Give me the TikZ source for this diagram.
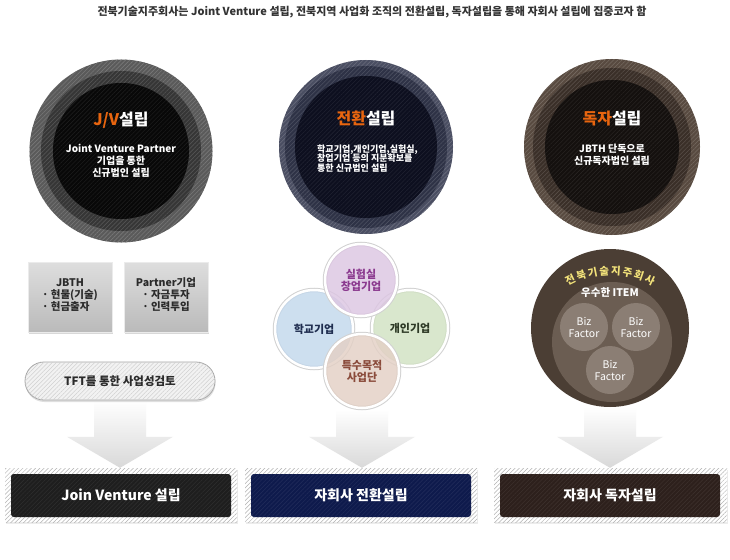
\documentclass[tikz,border=0pt]{standalone}
\usepackage{fontspec}
\setmainfont{Noto Sans CJK KR}
\usetikzlibrary{patterns.meta,shadows,calc,backgrounds}
\pgfdeclarelayer{bgzero}
\pgfsetlayers{bgzero,background,main}
\definecolor{titlec}{HTML}{333333}
\definecolor{orng}{HTML}{E8650F}
\definecolor{rA}{HTML}{5A5A5A}\definecolor{rB}{HTML}{363636}\definecolor{rC}{HTML}{080808}
\definecolor{sA}{HTML}{4A4E62}\definecolor{sB}{HTML}{2E3246}\definecolor{sC}{HTML}{0D0F1F}
\definecolor{tA}{HTML}{584A40}\definecolor{tB}{HTML}{3A2F28}\definecolor{tC}{HTML}{14100E}
\definecolor{boxtext}{HTML}{2B2B2B}
\definecolor{pur}{HTML}{DCC6E2}\definecolor{purt}{HTML}{8B3A8F}
\definecolor{blu}{HTML}{C3D8EC}\definecolor{blut}{HTML}{1F2D4F}
\definecolor{grn}{HTML}{D1E2C3}\definecolor{grnt}{HTML}{2E3A26}
\definecolor{pnk}{HTML}{E3D0C5}\definecolor{pnkt}{HTML}{8A4B3B}
\definecolor{broA}{HTML}{4B3E34}\definecolor{broB}{HTML}{6B5D52}\definecolor{broC}{HTML}{8B7E74}
\definecolor{yel}{HTML}{F2E27A}
\definecolor{bxA}{HTML}{1E1E1E}\definecolor{bxB}{HTML}{0E1A4C}\definecolor{bxC}{HTML}{2D201C}
\begin{document}
\begin{tikzpicture}[x=1pt,y=-1pt,
  ring/.style={circle, inner sep=0pt, minimum size=#1},
  hatch/.style={postaction={pattern={Lines[angle=45,distance=3pt,line width=0.6pt]}, pattern color=#1}},
  ctitle/.style={font=\fontsize{16}{18}\selectfont\bfseries, inner sep=0pt},
  ctxt/.style={font=\fontsize{10}{12}\selectfont\bfseries, text=white, align=center, inner sep=0pt},
  graybox/.style={rectangle, inner sep=0pt, top color=black!13, bottom color=black!27, draw=black!8, line width=0.6pt,
     drop shadow={opacity=0.3, shadow xshift=1pt, shadow yshift=-1.5pt}},
  boxtitle/.style={font=\fontsize{10.5}{12}\selectfont\bfseries, text=boxtext, inner sep=0pt},
  boxlist/.style={font=\fontsize{10.5}{12}\selectfont\bfseries, text=boxtext, align=left, inner sep=0pt},
  pillbox/.style={rectangle, rounded corners=19pt, inner sep=0pt, fill=black!5, draw=black!35, line width=0.8pt,
     postaction={pattern={Lines[angle=45,distance=3pt,line width=0.5pt]}, pattern color=black!18},
     drop shadow={opacity=0.25, shadow xshift=0.5pt, shadow yshift=-2pt},
     font=\fontsize{11.5}{13}\selectfont\bfseries, text=boxtext},
  petal/.style={circle, inner sep=0pt, minimum size=#1, draw=white, line width=2.5pt,
     preaction={draw=black!18, line width=4.5pt}, fill opacity=0.82, text opacity=1,
     font=\fontsize{11}{13}\selectfont\bfseries, align=center},
  biz/.style={circle, inner sep=0pt, minimum size=48pt, fill=broC, text=white,
     font=\fontsize{10.5}{12}\selectfont, align=center},
  arrowfill/.style={top color=white, bottom color=black!15},
  outerbox/.style={rectangle, inner sep=0pt, fill=white,
     postaction={pattern={Lines[angle=45,distance=3pt,line width=0.5pt]}, pattern color=black!30},
     drop shadow={opacity=0.15, shadow xshift=0.5pt, shadow yshift=-1.5pt}},
  innerbox/.style={rectangle, rounded corners=3pt, inner sep=0pt, text=white,
     font=\fontsize{14}{16}\selectfont\bfseries}
]
\begin{pgfonlayer}{bgzero}
\fill[white] (0,0) rectangle (730,559);
\end{pgfonlayer}
\useasboundingbox (0,0) rectangle (730,559);

% title
\node[font=\fontsize{11}{13}\selectfont\bfseries, text=titlec, inner sep=0pt] (title) at (372,12)
  {전북기술지주회사는 Joint Venture 설립, 전북지역 사업화 조직의 전환설립, 독자설립을 통해 자회사 설립에 집중코자 함};

% circle 1
\node[ring=183pt, fill=rA, hatch=rA!82!white] (c1) at (121,151) {};
\node[ring=160pt, fill=rB, hatch=rB!85!white] (c1m) at (121,151) {};
\node[ring=136pt, fill=rC, hatch=rC!92!white] (c1i) at (121,151) {};
\node[ctitle] (c1t) at (121,120) {\textcolor{orng}{J/V}\textcolor{white}{설립}};
\node[ctxt] (c1b) at (121,161) {Joint Venture Partner\\기업을 통한\\신규법인 설립};

% circle 2
\node[ring=174pt, fill=sA, hatch=sA!82!white] (c2) at (366,147) {};
\node[ring=162pt, fill=sB, hatch=sB!85!white] (c2m) at (366,147) {};
\node[ring=142pt, fill=sC, hatch=sC!92!white] (c2i) at (366,147) {};
\node[ctitle] (c2t) at (366,118) {\textcolor{orng}{전환}\textcolor{white}{설립}};
\node[font=\fontsize{9}{9.8}\selectfont\bfseries, text=white, align=left, inner sep=0pt, anchor=west] (c2b) at (317,158.5)
  {학교기업,개인기업,실험실,\\창업기업 등의 지분확보를\\통한 신규법인 설립};

% circle 3
\node[ring=176pt, fill=tA, hatch=tA!82!white] (c3) at (612,147) {};
\node[ring=158pt, fill=tB, hatch=tB!85!white] (c3m) at (612,147) {};
\node[ring=134pt, fill=tC, hatch=tC!92!white] (c3i) at (612,147) {};
\node[ctitle] (c3t) at (612,119) {\textcolor{orng}{독자}\textcolor{white}{설립}};
\node[ctxt] (c3b) at (612,155) {JBTH 단독으로\\신규독자법인 설립};

% left gray boxes
\node[graybox, minimum width=84pt, minimum height=70pt] (jb) at (70,297) {};
\node[boxtitle] (jbt) at (70,283) {JBTH};
\node[boxlist] (jbl) at (70,301) {· 현물(기술)\\· 현금출자};
\node[graybox, minimum width=84pt, minimum height=70pt] (pt) at (166,297) {};
\node[boxtitle] (ptt) at (166,283) {Partner기업};
\node[boxlist] (ptl) at (166,301) {· 자금투자\\· 인력투입};

% pill
\node[pillbox, minimum width=190pt, minimum height=38pt] (tft) at (120,381) {TFT를 통한 사업성검토};

% four petals
\node[petal=78pt, fill=blu, text=blut] (pL) at (314,329) {학교기업};
\node[petal=76pt, fill=grn, text=grnt] (pR) at (410,328) {개인기업};
\node[petal=72pt, fill=pur, text=purt] (pT) at (361,280) {실험실\\[-1pt]창업기업};
\node[petal=74pt, fill=pnk, text=pnkt] (pB) at (362,371) {특수목적\\[-1pt]사업단};

% right big circle
\node[ring=158pt, fill=broA] (bc) at (610,328) {};
\node[ring=120pt, fill=broB] (bci) at (612,342) {};
\foreach \ch [count=\i] in {전,북,기,술,지,주,회,사} {
  \pgfmathsetmacro\ang{116.2-(\i-1)*7.5}
  \node[rotate=\ang-90, text=yel, font=\fontsize{10.5}{12}\selectfont\bfseries, inner sep=0pt] (arc\i)
    at ([shift={(610,361)}]-\ang:90) {\ch};
}
\node[text=white, font=\fontsize{10.5}{12}\selectfont\bfseries, inner sep=0pt] (item) at (610,293) {우수한 ITEM};
\node[biz] (bz1) at (584,327) {Biz\\Factor};
\node[biz] (bz2) at (636,327) {Biz\\Factor};
\node[biz] (bz3) at (610,370) {Biz\\Factor};

% bottom boxes
\node[outerbox, minimum width=232pt, minimum height=54pt] (box1o) at (121,495) {};
\node[innerbox, fill=bxA, hatch=bxA!93!white, minimum width=220pt, minimum height=43pt] (box1) at (121,495.5) {Join Venture 설립};
\node[outerbox, minimum width=232pt, minimum height=54pt] (box2o) at (361,495) {};
\node[innerbox, fill=bxB, hatch=bxB!93!white, minimum width=220pt, minimum height=43pt] (box2) at (361,495.5) {자회사 전환설립};
\node[outerbox, minimum width=233pt, minimum height=54pt] (box3o) at (610.5,495) {};
\node[innerbox, fill=bxC, hatch=bxC!93!white, minimum width=220pt, minimum height=43pt] (box3) at (610,495.5) {자회사 독자설립};

% block arrows
\begin{scope}[on background layer]
\foreach \src/\dst in {tft/box1o, pB/box2o, bc/box3o} {
  \path[arrowfill] let \p1=(\src.south), \p2=(\dst.north) in
    (\x1-26pt,\y1) -- (\x1+26pt,\y1) -- (\x1+26pt,\y2+31pt) -- (\x1+53pt,\y2+31pt) -- (\x1,\y2)
    -- (\x1-53pt,\y2+31pt) -- (\x1-26pt,\y2+31pt) -- cycle;
}
\end{scope}
\end{tikzpicture}
\end{document}
